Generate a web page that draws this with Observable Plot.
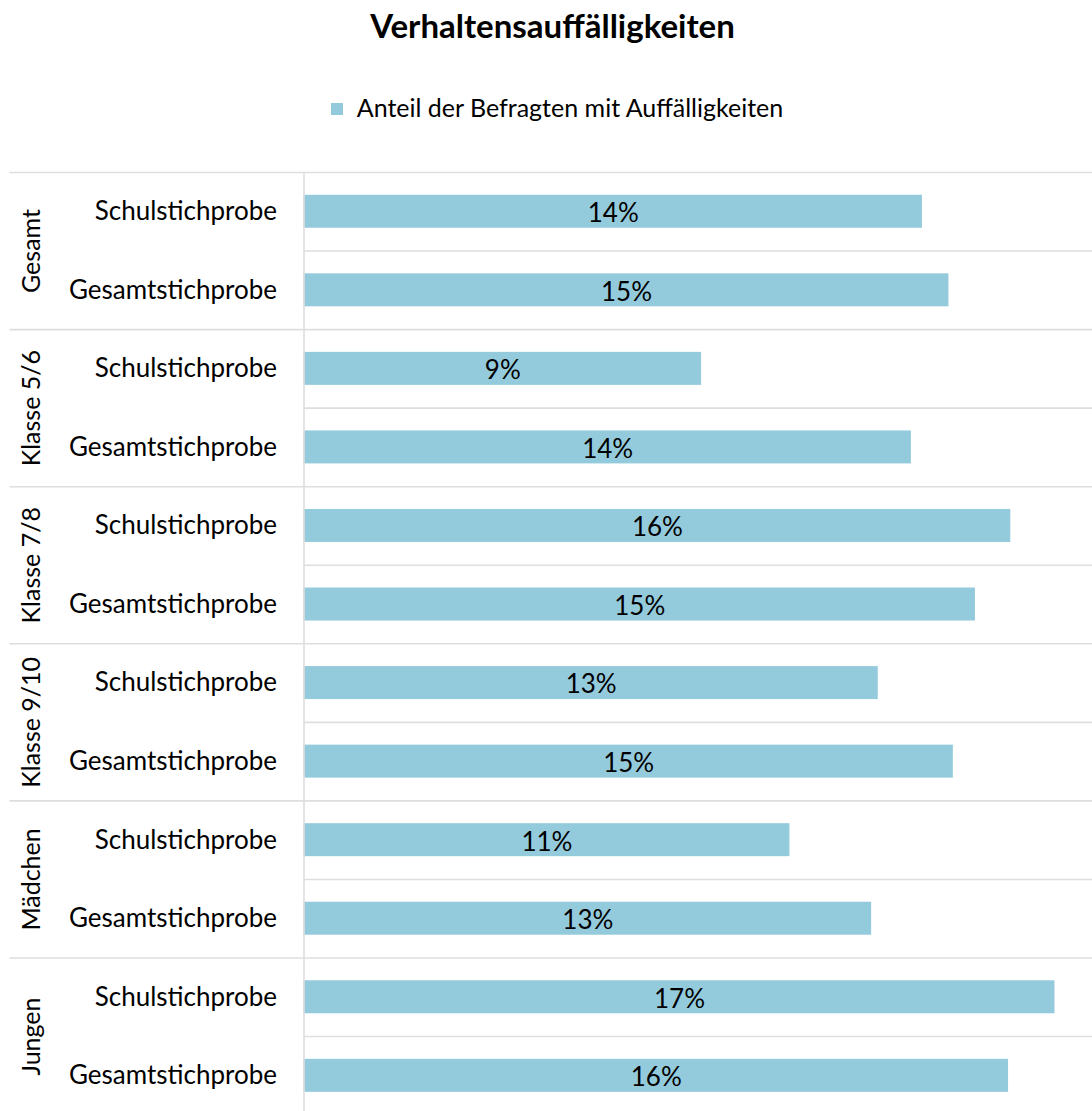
<!DOCTYPE html>
<html><head><meta charset="utf-8">
<script src="https://cdn.jsdelivr.net/npm/d3@7"></script>
<script src="https://cdn.jsdelivr.net/npm/@observablehq/plot@0.6"></script>
<style>
body{margin:0;background:#fff;font-family:Lato,"Open Sans",sans-serif;color:#000;width:1092px;}
#title{height:50px;line-height:50px;text-align:center;font-weight:bold;font-size:33px;padding-left:13px;}
#legend{height:50px;line-height:50px;margin-top:32px;text-align:center;font-size:25px;padding-left:22px;}
#legend .sw{display:inline-block;width:12px;height:12px;background:#94cbdc;margin-right:14px;vertical-align:middle;position:relative;top:-2px;}
#spacer{height:28px;}
#chart svg{display:block;overflow:visible;}
</style></head><body>
<div id="title">Verhaltensauffälligkeiten</div>
<div id="legend"><span class="sw"></span><span id="legendText"></span></div>
<div id="spacer"></div>
<div id="chart"></div>
<script>
const groups = ["Gesamt", "Klasse 5/6", "Klasse 7/8", "Klasse 9/10", "Mädchen", "Jungen"];
const samples = ["Schulstichprobe", "Gesamtstichprobe"];
const schulValues = [14.0, 9.0, 16.0, 13.0, 11.0, 17.0];
const gesamtValues = [14.6, 13.75, 15.2, 14.7, 12.85, 15.95];
const seriesName = "Anteil der Befragten mit Auffälligkeiten";
const xMax = 17.85;

document.getElementById("legendText").textContent = seriesName;

const rows = groups.flatMap((g, i) => [
  {group: g, sample: samples[0], key: g + "|" + samples[0], value: schulValues[i], first: true},
  {group: g, sample: samples[1], key: g + "|" + samples[1], value: gesamtValues[i], first: false}
]);
const firstRows = rows.filter(d => d.first);
const otherRows = rows.filter(d => !d.first);
const half = 78.55 / 2;
const lineColor = "#dedede";
const font = "Lato, 'Open Sans', sans-serif";

const chart = Plot.plot({
  width: 1092,
  height: 960,
  marginLeft: 303.5,
  marginRight: 0,
  marginTop: 12,
  marginBottom: 5.4,
  style: {fontFamily: font, fontSize: "26px", color: "#000", background: "transparent"},
  x: {domain: [0, xMax], axis: null},
  y: {domain: rows.map(d => d.key), paddingInner: 0.58, paddingOuter: 0.29, round: false, axis: null},
  marks: [
    Plot.ruleY(firstRows, {y: "key", dy: -half, stroke: lineColor, strokeWidth: 1.6, insetLeft: -294}),
    Plot.ruleY(otherRows, {y: "key", dy: -half, stroke: lineColor, strokeWidth: 1.6}),
    Plot.barX(rows, {x: "value", y: "key", fill: "#94cbdc"}),
    Plot.ruleX([0], {stroke: lineColor, strokeWidth: 1.6}),
    Plot.text(rows, {x: d => d.value / 2, y: "key", text: d => Math.round(d.value) + "%", dy: 2, fontSize: 26, fill: "#000"}),
    Plot.axisY({tickFormat: k => k.split("|")[1], tickSize: 0, tickPadding: 27, fontSize: 26, label: null, fill: "#000"}),
    Plot.text(firstRows, {y: "key", text: "group", frameAnchor: "left", textAnchor: "middle", dx: -272, dy: half, rotate: -90, fontSize: 25, fill: "#000"})
  ]
});
document.getElementById("chart").appendChild(chart);
</script>
</body></html>
